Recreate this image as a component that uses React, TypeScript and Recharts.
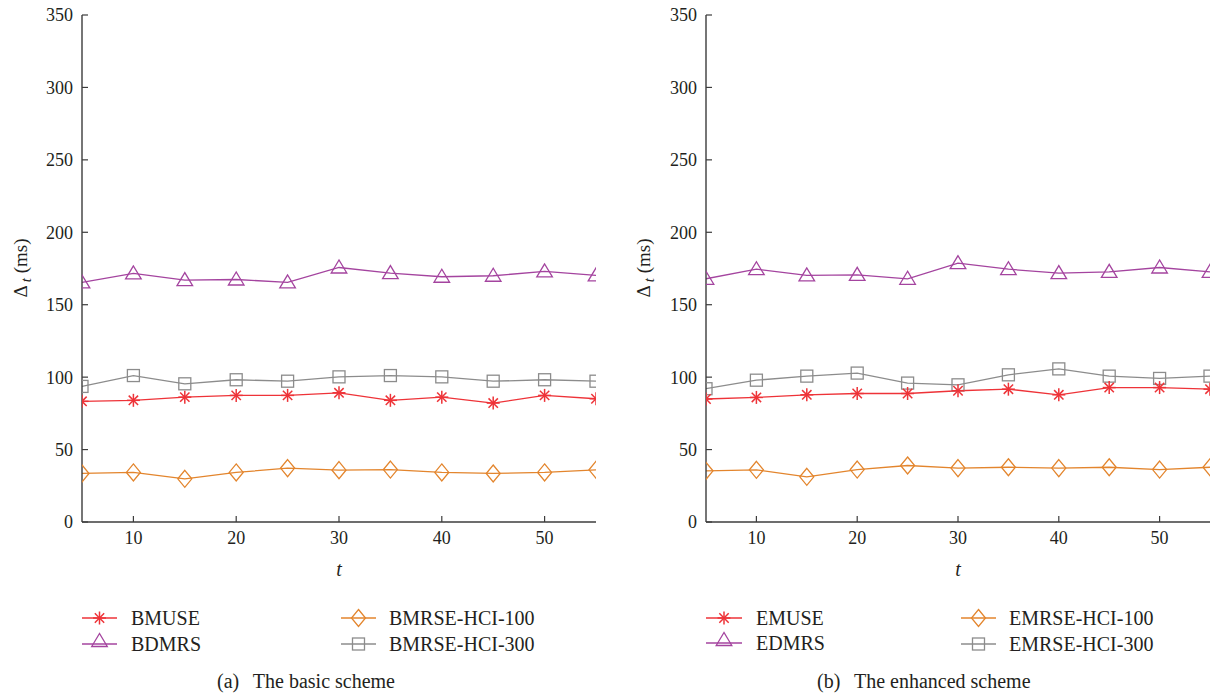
import React from 'react';
import { LineChart, Line, XAxis, YAxis } from 'recharts';

// ---------- data ----------
const tValues = [5, 10, 15, 20, 25, 30, 35, 40, 45, 50, 55];
const xTicks = [10, 20, 30, 40, 50];
const yTicks = [0, 50, 100, 150, 200, 250, 300, 350];

const bmuse = [83.3, 84, 86.2, 87.4, 87.4, 89.2, 84, 86.2, 82.1, 87.4, 85.1];
const bdmrs = [165.4, 171.6, 167, 167.4, 165.4, 175.7, 171.8, 169.3, 170, 173, 170.2];
const bmrse100 = [33.5, 34.2, 29.8, 34.2, 37.2, 35.8, 36.2, 34.2, 33.5, 34.2, 36];
const bmrse300 = [93.6, 101.1, 95.4, 98.2, 97.2, 100.2, 101.1, 100.2, 97.2, 98.2, 97.2];

const emuse = [84.9, 86, 87.8, 88.7, 88.7, 90.6, 91.7, 87.8, 92.8, 92.8, 91.7];
const edmrs = [167.9, 174.5, 170.2, 170.6, 167.9, 178.7, 174.5, 171.8, 172.7, 175.7, 172.7];
const emrse100 = [35.3, 36, 31.2, 36.2, 39, 37.2, 37.8, 37.2, 37.8, 36.2, 37.8];
const emrse300 = [92, 97.9, 100.7, 102.8, 95.9, 94.7, 101.6, 105.7, 100.7, 99.1, 100.7];

const basicNames = ['BMUSE', 'BDMRS', 'BMRSE-HCI-100', 'BMRSE-HCI-300'];
const enhancedNames = ['EMUSE', 'EDMRS', 'EMRSE-HCI-100', 'EMRSE-HCI-300'];

const basicData = tValues.map((t, i) => ({ t, s0: bmuse[i], s1: bdmrs[i], s2: bmrse100[i], s3: bmrse300[i] }));
const enhancedData = tValues.map((t, i) => ({ t, s0: emuse[i], s1: edmrs[i], s2: emrse100[i], s3: emrse300[i] }));

// ---------- styles ----------
const FONT = 'Liberation Serif';
const TEXT = '#231f20';
const AXIS = '#3c3c3c';
const COLORS = ['#ee3338', '#a4449f', '#e3852d', '#8c8c8c'];
const SHAPES = ['star', 'triangle', 'diamond', 'square'];

function Marker({ shape, cx, cy, color }: { shape: string; cx: number; cy: number; color: string }) {
  if (cx == null || cy == null || isNaN(cx) || isNaN(cy)) return <g />;
  const sw = 1.3;
  if (shape === 'star') {
    const r = 6.5;
    const d = r * 0.72;
    return (
      <g stroke={color} strokeWidth={1.5}>
        <line x1={cx} y1={cy - r} x2={cx} y2={cy + r} />
        <line x1={cx - r} y1={cy} x2={cx + r} y2={cy} />
        <line x1={cx - d} y1={cy - d} x2={cx + d} y2={cy + d} />
        <line x1={cx - d} y1={cy + d} x2={cx + d} y2={cy - d} />
      </g>
    );
  }
  if (shape === 'triangle') {
    return (
      <polygon
        points={`${cx},${cy - 7.5} ${cx - 7.8},${cy + 5.5} ${cx + 7.8},${cy + 5.5}`}
        fill="none"
        stroke={color}
        strokeWidth={sw}
      />
    );
  }
  if (shape === 'diamond') {
    return (
      <polygon
        points={`${cx},${cy - 8.5} ${cx + 7},${cy} ${cx},${cy + 8.5} ${cx - 7},${cy}`}
        fill="none"
        stroke={color}
        strokeWidth={sw}
      />
    );
  }
  return <rect x={cx - 6} y={cy - 6} width={12} height={12} fill="none" stroke={color} strokeWidth={sw} />;
}

const tickStyle = { fontSize: 18, fill: TEXT, fontFamily: FONT };

function Panel({ data, width }: { data: any[]; width: number }) {
  return (
    <LineChart
      width={width}
      height={560}
      data={data}
      margin={{ top: 15, right: 14, bottom: 8, left: 22 }}
    >
      <XAxis
        dataKey="t"
        type="number"
        domain={[5, 55]}
        ticks={xTicks}
        allowDataOverflow
        height={30}
        tickSize={-6}
        tickMargin={15}
        tick={tickStyle}
        stroke={AXIS}
        axisLine={{ stroke: AXIS, strokeWidth: 1.4 }}
        tickLine={{ stroke: AXIS, strokeWidth: 1.2 }}
      />
      <XAxis
        xAxisId="top"
        orientation="top"
        dataKey="t"
        type="number"
        domain={[5, 55]}
        ticks={xTicks}
        allowDataOverflow
        height={0}
        tickSize={-6}
        tick={false}
        axisLine={{ stroke: AXIS, strokeWidth: 1.4 }}
        tickLine={{ stroke: AXIS, strokeWidth: 1.2 }}
      />
      <YAxis
        type="number"
        domain={[0, 350]}
        ticks={yTicks}
        allowDataOverflow
        width={60}
        tickSize={-6}
        tickMargin={15}
        tick={tickStyle}
        axisLine={{ stroke: AXIS, strokeWidth: 1.4 }}
        tickLine={{ stroke: AXIS, strokeWidth: 1.2 }}
      />
      <YAxis
        yAxisId="right"
        orientation="right"
        type="number"
        domain={[0, 350]}
        ticks={yTicks}
        allowDataOverflow
        width={0}
        tickSize={-6}
        tick={false}
        axisLine={{ stroke: AXIS, strokeWidth: 1.4 }}
        tickLine={{ stroke: AXIS, strokeWidth: 1.2 }}
      />
      {[3, 1, 0, 2].map((k) => (
        <Line
          key={k}
          dataKey={`s${k}`}
          stroke={COLORS[k]}
          strokeWidth={1.3}
          isAnimationActive={false}
          activeDot={false}
          dot={(p: any) => (
            <Marker key={`m${k}-${p.index}`} shape={SHAPES[k]} cx={p.cx} cy={p.cy} color={COLORS[k]} />
          )}
        />
      ))}
    </LineChart>
  );
}

function LegendItem({ x1, x2, y, k, label, textX }: { x1: number; x2: number; y: number; k: number; label: string; textX: number }) {
  const cx = (x1 + x2) / 2;
  return (
    <g>
      <line x1={x1} y1={y} x2={x2} y2={y} stroke={COLORS[k]} strokeWidth={1.3} />
      <Marker shape={SHAPES[k]} cx={cx} cy={k === 1 ? y - 3 : y} color={COLORS[k]} />
      <text x={textX} y={y} dy="0.35em" fontSize={20} fill={TEXT} fontFamily={FONT}>
        {label}
      </text>
    </g>
  );
}

function YTitle({ cx, cy }: { cx: number; cy: number }) {
  return (
    <text
      transform={`translate(${cx},${cy}) rotate(-90)`}
      textAnchor="middle"
      dy="0.35em"
      fontSize={19}
      fill={TEXT}
      fontFamily={FONT}
    >
      <tspan>Δ</tspan>
      <tspan fontStyle="italic" fontSize={15} dx={3} dy={4}>t</tspan>
      <tspan dy={-4}>{'  (ms)'}</tspan>
    </text>
  );
}

export default function App() {
  return (
    <div style={{ position: 'absolute', left: 0, top: 0, width: 1216, height: 695, background: '#fff' }}>
      <div style={{ position: 'absolute', left: 0, top: 0 }}>
        <Panel data={basicData} width={610} />
      </div>
      <div style={{ position: 'absolute', left: 624, top: 0 }}>
        <Panel data={enhancedData} width={600} />
      </div>
      <svg
        width={1216}
        height={695}
        style={{ position: 'absolute', left: 0, top: 0, pointerEvents: 'none' }}
      >
        <YTitle cx={20} cy={268} />
        <YTitle cx={643} cy={268} />
        <text x={339} y={569} textAnchor="middle" dy="0.35em" fontSize={20} fontStyle="italic" fill={TEXT} fontFamily={FONT}>t</text>
        <text x={958} y={569} textAnchor="middle" dy="0.35em" fontSize={20} fontStyle="italic" fill={TEXT} fontFamily={FONT}>t</text>

        <LegendItem x1={82} x2={117} y={618} k={0} label={basicNames[0]} textX={131} />
        <LegendItem x1={82} x2={117} y={644} k={1} label={basicNames[1]} textX={131} />
        <LegendItem x1={341} x2={376} y={618} k={2} label={basicNames[2]} textX={389} />
        <LegendItem x1={341} x2={376} y={644} k={3} label={basicNames[3]} textX={389} />

        <LegendItem x1={706} x2={742} y={618} k={0} label={enhancedNames[0]} textX={756} />
        <LegendItem x1={706} x2={742} y={643} k={1} label={enhancedNames[1]} textX={756} />
        <LegendItem x1={961} x2={996} y={618} k={2} label={enhancedNames[2]} textX={1009} />
        <LegendItem x1={961} x2={996} y={644} k={3} label={enhancedNames[3]} textX={1009} />

        <text x={217} y={681} dy="0.35em" fontSize={20} fill={TEXT} fontFamily={FONT}>
          <tspan>(a)</tspan>
          <tspan dx={9}> The basic scheme</tspan>
        </text>
        <text x={817} y={681} dy="0.35em" fontSize={20} fill={TEXT} fontFamily={FONT}>
          <tspan>(b)</tspan>
          <tspan dx={9}> The enhanced scheme</tspan>
        </text>
      </svg>
    </div>
  );
}
